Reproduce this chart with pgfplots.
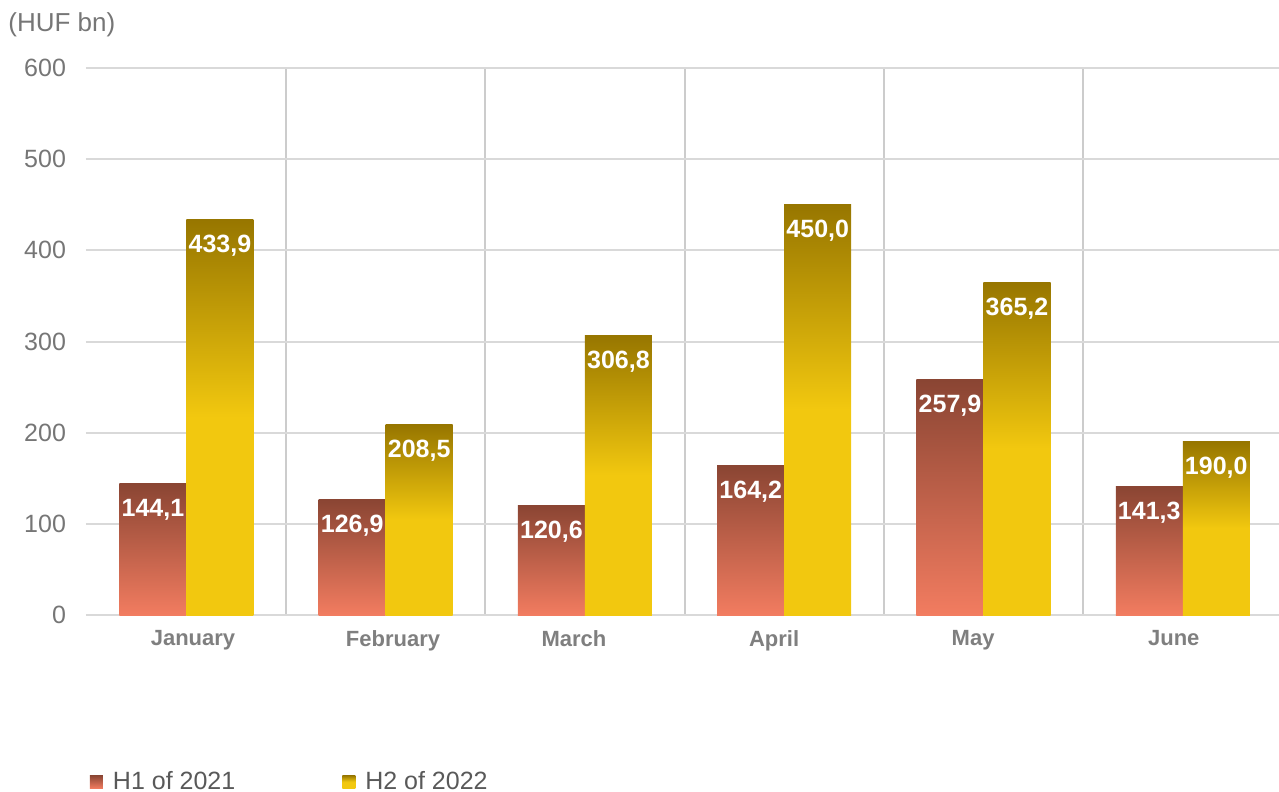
\documentclass[border=0pt]{standalone}
\usepackage{pgfplots}
\pgfplotsset{compat=1.18}
\usepackage{fontspec}
\setmainfont{Liberation Sans}
\definecolor{salmon}{HTML}{F27C60}
\definecolor{brownc}{HTML}{8A4533}
\definecolor{yelc}{HTML}{F2C80F}
\definecolor{olivec}{HTML}{977600}
\definecolor{gridc}{HTML}{D9D9D9}
\definecolor{vgridc}{HTML}{CCCCCC}
\definecolor{tickc}{HTML}{767676}
\definecolor{catc}{HTML}{7F7F7F}
\definecolor{legc}{HTML}{595959}
\pgfdeclareverticalshading{redbar}{100bp}{color(0bp)=(salmon); color(25bp)=(salmon); color(75bp)=(brownc); color(100bp)=(brownc)}
\pgfdeclareverticalshading{yelbar}{100bp}{color(0bp)=(yelc); color(50bp)=(yelc); color(75bp)=(olivec); color(100bp)=(olivec)}
\pgfplotsset{
  sqlegend/.style={legend image code/.code={\path[##1] (0pt,-3.25pt) rectangle (6.5pt,3.25pt); \path (0pt,0pt) -- (9.5pt,0pt);}},
  redb/.style={ybar, bar width=33.5pt, bar shift=-16.75pt, draw=none, shading=redbar, sqlegend,
    every node near coord/.append style={xshift=-16.75pt}},
  yelb/.style={ybar, bar width=33.5pt, bar shift=16.75pt, draw=none, shading=yelbar, sqlegend,
    every node near coord/.append style={xshift=16.75pt}},
}
\begin{document}
\begin{tikzpicture}
\path[use as bounding box] (-43pt,-88.5pt) rectangle (596.5pt,307.5pt);
\begin{axis}[
  at={(0,0)}, anchor=south west,
  scale only axis, width=596.5pt, height=273.5pt,
  xmin=-0.504, xmax=5.483, ymin=0, ymax=600,
  xtick={0.033,1.037,1.945,2.949,3.948,4.955},
  xticklabels={January,February,March,April,May,June},
  minor xtick={0.5,1.5,2.5,3.5,4.5},
  ytick={0,100,...,600},
  ymajorgrids, xminorgrids,
  major grid style={gridc, line width=1pt},
  minor grid style={vgridc, line width=1pt},
  axis x line*=bottom, axis y line*=left,
  y axis line style={draw=none},
  x axis line style={draw=gridc, line width=1pt, -},
  major tick length=0pt, minor tick length=0pt,
  tick style={draw=none},
  /pgf/number format/assume math mode=true,
  yticklabel style={font=\fontsize{12.5}{14}\selectfont, text=tickc, xshift=-6.5pt},
  xticklabel style={font=\fontsize{11}{13}\selectfont\bfseries, text=catc, yshift=-4pt},
  nodes near coords, point meta=explicit symbolic,
  every node near coord/.append style={font=\fontsize{12.5}{14}\selectfont\bfseries, text=white, yshift=-22pt},
  legend style={at={(0.003,-0.305)}, anchor=west, draw=none, fill=none, inner sep=0pt,
    font=\fontsize{12.5}{14}\selectfont, text=legc,
    /tikz/every even column/.append style={column sep=51.5pt}},
  legend columns=2, legend cell align=left,
]
\addplot[redb] coordinates {(0,144.1) [144,1]};
\addplot[yelb] coordinates {(0,433.9) [433,9]};
\addplot[redb, forget plot] coordinates {(1,126.9) [126,9]};
\addplot[yelb, forget plot] coordinates {(1,208.5) [208,5]};
\addplot[redb, forget plot] coordinates {(2,120.6) [120,6]};
\addplot[yelb, forget plot] coordinates {(2,306.8) [306,8]};
\addplot[redb, forget plot] coordinates {(3,164.2) [164,2]};
\addplot[yelb, forget plot] coordinates {(3,450.0) [450,0]};
\addplot[redb, forget plot] coordinates {(4,257.9) [257,9]};
\addplot[yelb, forget plot] coordinates {(4,365.2) [365,2]};
\addplot[redb, forget plot] coordinates {(5,141.3) [141,3]};
\addplot[yelb, forget plot] coordinates {(5,190.0) [190,0]};
\legend{H1 of 2021, H2 of 2022}
\end{axis}
\node[anchor=west, font=\fontsize{13}{15}\selectfont, text=tickc, inner sep=0pt] at (-39pt,295pt) {(HUF bn)};
\end{tikzpicture}
\end{document}
